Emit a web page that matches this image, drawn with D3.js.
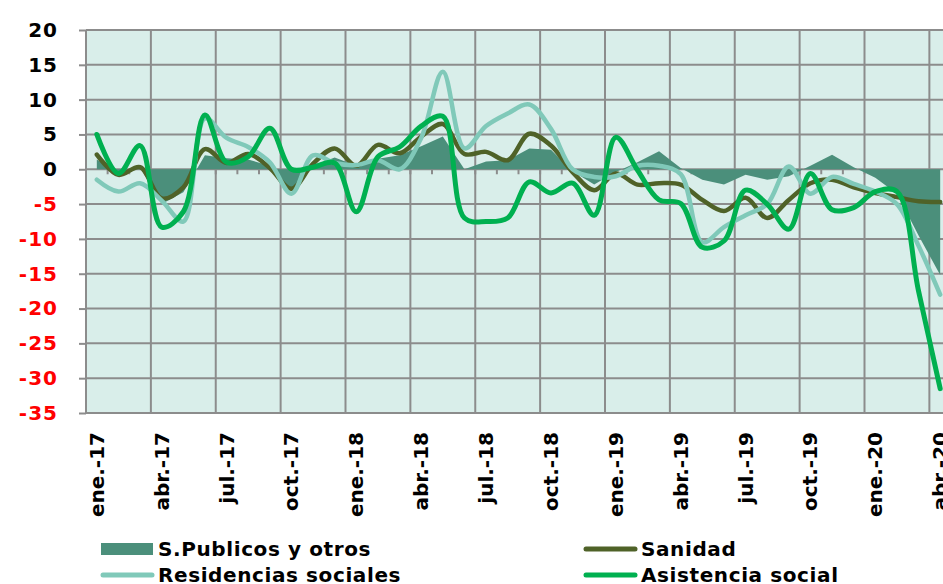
<!DOCTYPE html>
<html>
<head>
<meta charset="utf-8">
<script src="https://cdnjs.cloudflare.com/ajax/libs/d3/7.8.5/d3.min.js"></script>
<style>
  body { margin: 0; background: #fff; }
  svg { display: block; font-family: "DejaVu Sans", Verdana, sans-serif; font-weight: bold; }
</style>
</head>
<body>
<div id="chart"></div>
<script>
const months = [
  "ene.-17","feb.-17","mar.-17","abr.-17","may.-17","jun.-17","jul.-17","ago.-17","sept.-17","oct.-17","nov.-17","dic.-17",
  "ene.-18","feb.-18","mar.-18","abr.-18","may.-18","jun.-18","jul.-18","ago.-18","sept.-18","oct.-18","nov.-18","dic.-18",
  "ene.-19","feb.-19","mar.-19","abr.-19","may.-19","jun.-19","jul.-19","ago.-19","sept.-19","oct.-19","nov.-19","dic.-19",
  "ene.-20","feb.-20","mar.-20","abr.-20"
];
const yTicks = [20, 15, 10, 5, 0, -5, -10, -15, -20, -25, -30, -35];

const sPublicos = [1.4, -0.5, 0.3, -5.0, -3.3, 2.0, 1.6, 1.4, 0.5, -3.0,
  0.5, 1.7, 0.5, 1.5, 2.0, 3.3, 4.7, 0.0, 1.1, 1.3,
  3.0, 2.8, -0.3, -2.2, -0.4, 1.0, 2.6, 0.2, -1.5, -2.2,
  -0.8, -1.5, -1.0, 0.5, 2.1, 0.3, -1.2, -3.5, -9.5, -15.2];
const sanidad = [2.1, -0.8, 0.3, -4.2, -2.6, 2.9, 0.9, 2.2, 0.2, -2.8,
  0.8, 3.0, 0.5, 3.5, 2.3, 4.7, 6.5, 2.2, 2.5, 1.3,
  5.1, 3.4, -0.4, -3.0, -0.6, -2.2, -2.0, -2.2, -4.4, -6.0,
  -4.1, -7.0, -4.4, -2.0, -1.5, -2.6, -3.4, -4.0, -4.6, -4.7];
const residencias = [-1.5, -3.2, -2.0, -4.5, -7.5, 7.3, 4.5, 3.2, 1.0, -3.5,
  2.0, 0.9, 0.6, 1.3, 0.0, 4.5, 14.0, 3.0, 6.2, 8.0,
  9.3, 5.8, 0.0, -1.1, -1.0, 0.5, 0.5, -0.7, -10.5, -8.3,
  -6.6, -5.0, 0.4, -3.5, -1.1, -2.1, -3.2, -5.0, -11.0, -18.0];
const asistencia = [5.0, -0.6, 3.4, -8.3, -6.1, 7.8, 1.0, 1.8, 5.9, 0.0,
  0.3, 0.9, -6.1, 1.8, 3.2, 6.2, 7.6, -7.0, -7.5, -7.0,
  -1.8, -3.4, -2.0, -6.6, 4.6, -0.1, -4.4, -4.9, -11.2, -10.3,
  -3.0, -5.0, -8.6, -0.6, -5.8, -5.5, -3.2, -3.2, -17.5, -31.5];

const seriesNames = ["S.Publicos y otros", "Sanidad", "Residencias sociales", "Asistencia social"];
const seriesColors = ["#4b8f7b", "#4f6228", "#80c9b9", "#00b050"];

const width = 943;
const height = 584;
const plot = {left: 86, right: 951, top: 30, bottom: 413};

const svg = d3.select('#chart').append('svg')
  .attr('width', width).attr('height', height);

const x = d3.scaleBand()
  .domain(months)
  .range([plot.left, plot.right])
  .padding(0);
const xc = i => x(months[i]) + x.bandwidth() / 2;

const y = d3.scaleLinear()
  .domain([-35, 20])
  .range([plot.bottom, plot.top]);

// plot background
svg.append('rect')
  .attr('x', plot.left).attr('y', plot.top)
  .attr('width', plot.right - plot.left).attr('height', plot.bottom - plot.top)
  .attr('fill', '#d9eeea');

// horizontal grid
svg.append('g').selectAll('line').data(yTicks).enter().append('line')
  .attr('x1', plot.left).attr('x2', plot.right)
  .attr('y1', d => y(d)).attr('y2', d => y(d))
  .attr('stroke', '#8c8c8c').attr('stroke-width', 2);

// vertical grid every quarter
const quarterMonths = months.filter((m, i) => i % 3 === 0);
svg.append('g').selectAll('line').data(quarterMonths).enter().append('line')
  .attr('x1', d => x(d)).attr('x2', d => x(d))
  .attr('y1', plot.top).attr('y2', plot.bottom)
  .attr('stroke', '#8c8c8c').attr('stroke-width', 2);

// y axis
const yAxis = g => g
  .attr('transform', `translate(${plot.left}, 0)`)
  .call(d3.axisLeft(y).tickValues(yTicks).tickSize(7).tickPadding(21)
    .tickFormat(d => String(d)))
  .call(g => g.select('.domain').remove())
  .call(g => g.selectAll('.tick line').attr('stroke', '#8c8c8c').attr('stroke-width', 2))
  .call(g => g.selectAll('.tick text')
    .attr('font-size', 20).attr('font-weight', 'bold')
    .attr('letter-spacing', '1px')
    .attr('font-family', '"DejaVu Sans", Verdana, sans-serif')
    .attr('fill', d => d < 0 ? '#ff0000' : '#000'));
svg.append('g').call(yAxis);

// small month ticks on the zero line
svg.append('g').selectAll('line').data(months.slice(1)).enter().append('line')
  .attr('x1', d => x(d)).attr('x2', d => x(d))
  .attr('y1', y(0)).attr('y2', y(0) + 5)
  .attr('stroke', '#8c8c8c').attr('stroke-width', 2);

// area series
const area = d3.area()
  .x((d, i) => xc(i))
  .y0(y(0))
  .y1(d => y(d));
svg.append('path').datum(sPublicos)
  .attr('d', area)
  .attr('fill', seriesColors[0]);

// line series
const line = d3.line()
  .x((d, i) => xc(i))
  .y(d => y(d))
  .curve(d3.curveCatmullRom.alpha(0.5));
const lines = [
  {data: sanidad, color: seriesColors[1], w: 4.5},
  {data: residencias, color: seriesColors[2], w: 4.5},
  {data: asistencia, color: seriesColors[3], w: 5}
];
svg.append('g').selectAll('path').data(lines).enter().append('path')
  .attr('d', d => line(d.data))
  .attr('fill', 'none')
  .attr('stroke', d => d.color)
  .attr('stroke-width', d => d.w)
  .attr('stroke-linecap', 'round')
  .attr('stroke-linejoin', 'round');

// x labels (every quarter, rotated)
svg.append('g').selectAll('text').data(quarterMonths).enter().append('text')
  .attr('transform', d => `translate(${x(d) + x.bandwidth() / 2}, 432) rotate(-90)`)
  .attr('text-anchor', 'end')
  .attr('dy', '0.35em')
  .attr('font-size', 20)
  .attr('fill', '#000')
  .text(d => d);

// legend
const legendItems = [
  {name: seriesNames[0], color: seriesColors[0], kind: 'rect', x: 101, y: 549},
  {name: seriesNames[1], color: seriesColors[1], kind: 'line', x: 584, y: 549},
  {name: seriesNames[2], color: seriesColors[2], kind: 'line', x: 101, y: 575},
  {name: seriesNames[3], color: seriesColors[3], kind: 'line', x: 584, y: 575}
];
const legend = svg.append('g');
legendItems.forEach(d => {
  if (d.kind === 'rect') {
    legend.append('rect')
      .attr('x', d.x).attr('y', d.y - 6)
      .attr('width', 52).attr('height', 12)
      .attr('fill', d.color);
  } else {
    legend.append('line')
      .attr('x1', d.x + 2).attr('x2', d.x + 51)
      .attr('y1', d.y).attr('y2', d.y)
      .attr('stroke', d.color).attr('stroke-width', 5)
      .attr('stroke-linecap', 'round');
  }
  legend.append('text')
    .attr('x', d.x + 57).attr('y', d.y + 7)
    .attr('font-size', 20)
    .attr('letter-spacing', '0.6px')
    .attr('fill', '#000')
    .text(d.name);
});
</script>
</body>
</html>
